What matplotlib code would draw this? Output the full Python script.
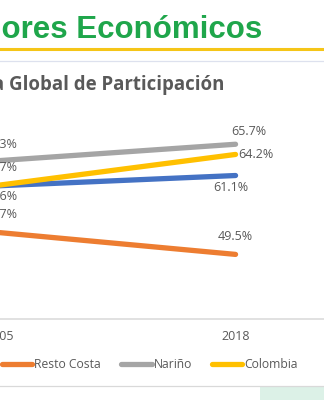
import matplotlib.pyplot as plt
from matplotlib.patches import Rectangle
from matplotlib.lines import Line2D

# Datos (Tasa Global de Participación, %)
anios = [2005, 2018]
series = ['Tumaco', 'Resto Costa', 'Nariño', 'Colombia']
tumaco = [59.6, 61.1]
resto_costa = [52.7, 49.5]
narino = [63.3, 65.7]
colombia = [59.7, 64.2]

colores = ['#4472C4', '#ED7D31', '#A5A5A5', '#FFC000']
valores = [tumaco, resto_costa, narino, colombia]

W, H = 324, 400
fig = plt.figure(figsize=(W / 100, H / 100), dpi=100)
fig.patch.set_facecolor('white')

def fx(px):
    return px / W

def fy(py):
    return 1 - py / H

fuente = 'Open Sans'
gris_texto = '#595959'

# Encabezado de la diapositiva
fig.text(fx(262), fy(38), 'Indicadores Económicos', ha='right', va='baseline',
         fontsize=22.5, fontweight='bold', color='#1FA64B', family='Liberation Sans')
fig.add_artist(Line2D([0, 1], [fy(49), fy(49)], color='#F5C518', lw=2.2))
fig.add_artist(Line2D([0, 1], [fy(60.5), fy(60.5)], color='#DDE1EE', lw=0.9))
fig.add_artist(Line2D([0, 1], [fy(386), fy(386)], color='#D9D9D9', lw=0.9))
fig.add_artist(Rectangle((fx(260), 0), fx(64), fy(387), color='#DCF1E7', lw=0))

# Título del gráfico
fig.text(fx(224), fy(85), 'Tasa Global de Participación', ha='right', va='center',
         fontsize=13.4, fontweight='bold', color=gris_texto, family=fuente)

# Ejes: 2005 cae en x=-2 px y 2018 en x=235 px
esc = (235 + 2) / 13
x0 = 2005 + 2 / esc
x1 = x0 + W / esc
ax = fig.add_axes([0, fy(319), 1, (319 - 115) / H])
ax.set_xlim(x0, x1)
ax.set_ylim(40, 70)
ax.patch.set_alpha(0)

for nombre, vals, c in zip(series, valores, colores):
    ax.plot(anios, vals, color=c, lw=3.8, solid_capstyle='round', label=nombre)

# Etiquetas de datos (desplazamiento en píxeles)
desp = {
    'Tumaco': [(0, -11, 'center'), (-5, -12, 'center')],
    'Resto Costa': [(0, 18, 'center'), (0, 18, 'center')],
    'Nariño': [(0, 16, 'center'), (13, 13, 'center')],
    'Colombia': [(0, 18, 'center'), (3, 0, 'left')],
}
for nombre, vals in zip(series, valores):
    for i, (a, v) in enumerate(zip(anios, vals)):
        dx, dy, ha = desp[nombre][i]
        ax.annotate(f'{v:.1f}%', (a, v), xytext=(dx, dy), textcoords='offset pixels',
                    ha=ha, va='center', fontsize=9, color=gris_texto, family=fuente)

ax.set_xticks(anios)
ax.set_xticklabels([str(a) for a in anios], family=fuente, fontsize=9)
ax.tick_params(axis='x', length=0, pad=8, colors=gris_texto)
ax.set_yticks([])
for s in ['top', 'left', 'right']:
    ax.spines[s].set_visible(False)
ax.spines['bottom'].set_color('#D9D9D9')
ax.spines['bottom'].set_linewidth(1.1)

ley = fig.legend(loc='center right', bbox_to_anchor=(fx(298), fy(365)), ncol=4,
                 frameon=False, borderpad=0, borderaxespad=0, handlelength=2.55,
                 handletextpad=0.17, columnspacing=1.62,
                 prop={'family': fuente, 'size': 8.7})
for t in ley.get_texts():
    t.set_color(gris_texto)
for l in ley.get_lines():
    l.set_linewidth(3.8)

fig.savefig('out.png', dpi=100)
